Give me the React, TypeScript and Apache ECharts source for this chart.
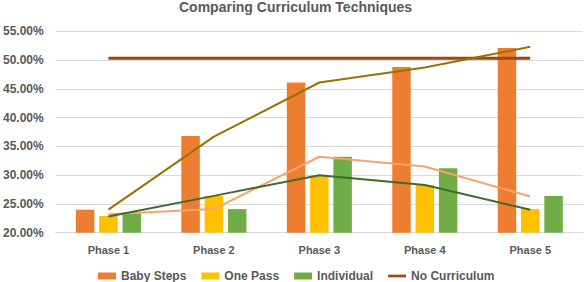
import React, { useEffect, useRef } from "react";
import * as echarts from "echarts";

const categories = ["Phase 1", "Phase 2", "Phase 3", "Phase 4", "Phase 5"];
const babySteps = [24.0, 36.8, 46.1, 48.8, 52.1];
const onePass = [22.9, 26.4, 30.0, 28.3, 24.1];
const individual = [23.3, 24.1, 33.2, 31.2, 26.4];
const noCurriculum = [50.3, 50.3, 50.3, 50.3, 50.3];
const babyStepsLine = [24.0, 36.7, 46.1, 48.7, 52.3];
const individualLine = [23.2, 24.1, 33.2, 31.5, 26.3];
const onePassLine = [22.8, 26.4, 30.0, 28.3, 24.0];

const FONT = "'Liberation Sans', Arial, sans-serif";
const GREY = "#595959";

export default function App() {
  const ref = useRef<HTMLDivElement>(null);
  useEffect(() => {
    if (!ref.current) return;
    document.body.style.margin = "0";
    const chart = echarts.init(ref.current, null, { renderer: "svg" });
    chart.setOption({
      animation: false,
      backgroundColor: "#ffffff",
      title: {
        text: "Comparing Curriculum Techniques",
        left: 179,
        top: 0,
        padding: 0,
        textStyle: { fontFamily: FONT, fontSize: 14, fontWeight: "bold", color: GREY },
      },
      legend: {
        data: [
          { name: "Baby Steps", icon: "rect" },
          { name: "One Pass", icon: "rect" },
          { name: "Individual", icon: "rect" },
          { name: "No Curriculum", icon: "path://M0,0 L20,0 L20,3 L0,3 Z" },
        ],
        top: 270,
        left: 98,
        itemWidth: 18,
        itemHeight: 7,
        itemGap: 15,
        padding: 0,
        textStyle: { fontFamily: FONT, fontSize: 12, fontWeight: "bold", color: GREY },
      },
      grid: { left: 55, right: 1, top: 31.3, bottom: 49.3, containLabel: false },
      xAxis: {
        type: "category",
        data: categories,
        axisLine: { show: true, lineStyle: { color: "#d9d9d9", width: 1 } },
        axisTick: { show: false },
        axisLabel: { margin: 12, fontFamily: FONT, fontSize: 11, fontWeight: "bold", color: GREY },
      },
      yAxis: {
        type: "value",
        min: 20,
        max: 55,
        interval: 5,
        axisLine: { show: false },
        axisTick: { show: false },
        splitLine: { lineStyle: { color: "#d9d9d9", width: 1 } },
        axisLabel: {
          margin: 12,
          fontFamily: FONT,
          fontSize: 12,
          fontWeight: "bold",
          color: GREY,
          formatter: (v: number) => v.toFixed(2) + "%",
        },
      },
      series: [
        { name: "Baby Steps", type: "bar", data: babySteps, barWidth: 18.5, barGap: "26%", itemStyle: { color: "#ED7D31" } },
        { name: "One Pass", type: "bar", data: onePass, barWidth: 18.5, barGap: "26%", itemStyle: { color: "#FFC000" } },
        { name: "Individual", type: "bar", data: individual, barWidth: 18.5, barGap: "26%", itemStyle: { color: "#70AD47" } },
        { name: "No Curriculum", type: "line", data: noCurriculum, symbol: "none", lineStyle: { color: "#9E480E", width: 3 }, itemStyle: { color: "#9E480E" } },
        { name: "Baby Steps Line", type: "line", data: babyStepsLine, symbol: "none", lineStyle: { color: "#997300", width: 2 }, itemStyle: { color: "#997300" } },
        { name: "Individual Line", type: "line", data: individualLine, symbol: "none", lineStyle: { color: "#F4A46C", width: 2 }, itemStyle: { color: "#F4A46C" } },
        { name: "One Pass Line", type: "line", data: onePassLine, symbol: "none", lineStyle: { color: "#43682B", width: 2 }, itemStyle: { color: "#43682B" } },
      ],
    });
    return () => chart.dispose();
  }, []);
  return <div ref={ref} style={{ width: 584, height: 282 }} />;
}
